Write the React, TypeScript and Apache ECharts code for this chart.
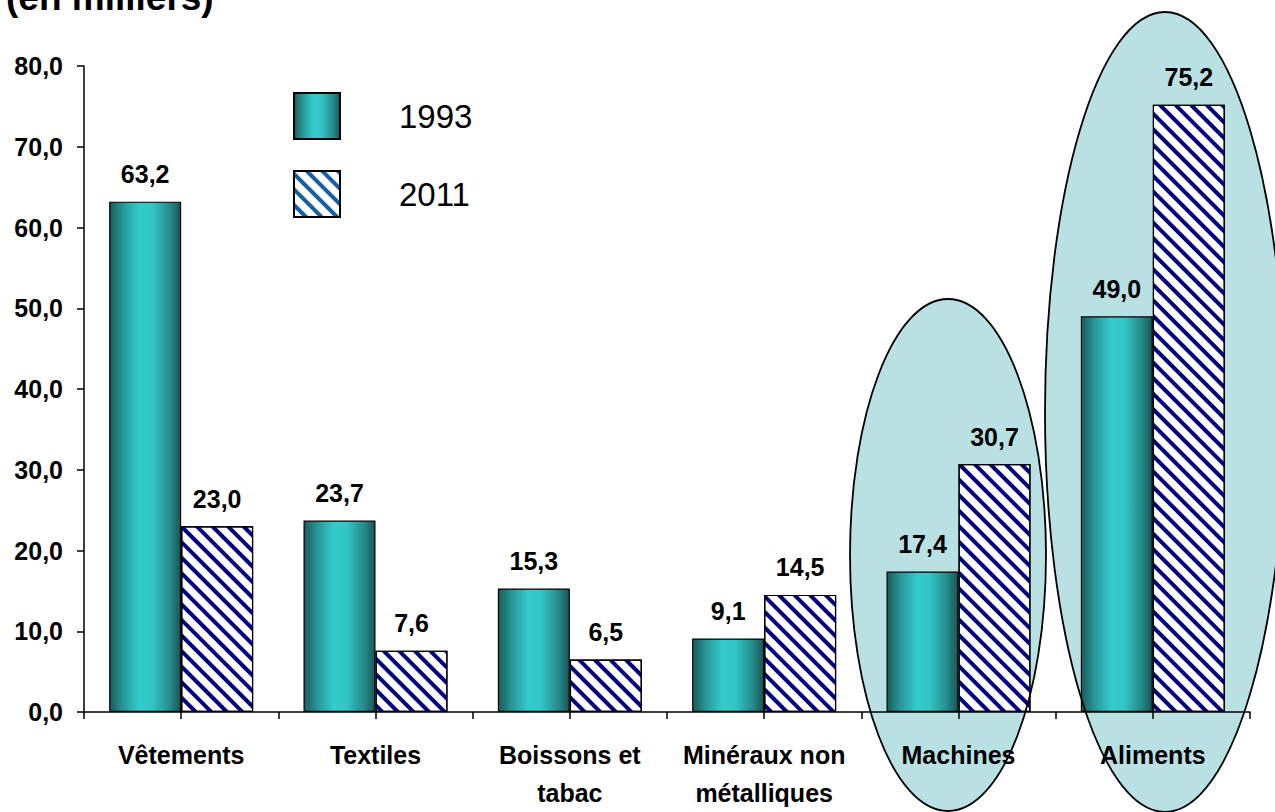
import React, { useEffect, useRef } from 'react';
import * as echarts from 'echarts';

const titleText = '(en milliers)';
const categories = ['Vêtements', 'Textiles', 'Boissons et\ntabac', 'Minéraux non\nmétalliques', 'Machines', 'Aliments'];
const seriesNames = ['1993', '2011'];
const values1993 = [63.2, 23.7, 15.3, 9.1, 17.4, 49.0];
const values2011 = [23.0, 7.6, 6.5, 14.5, 30.7, 75.2];
const yMin = 0;
const yMax = 80;
const yInterval = 10;
const halfSlots = ['a', 'b', 'c', 'd', 'e', 'f', 'g', 'h', 'i', 'j', 'k', 'l'];

const fmt = (v: number) => v.toFixed(1).replace('.', ',');
const FONT = 'Arial, "Liberation Sans", sans-serif';

export default function App() {
  const ref = useRef<HTMLDivElement>(null);
  useEffect(() => {
    if (!ref.current) return;
    const chart = echarts.init(ref.current, undefined, { renderer: 'svg' });
    const tealGrad = new echarts.graphic.LinearGradient(0, 0, 1, 0, [
      { offset: 0, color: '#1a5c5c' },
      { offset: 0.18, color: '#279595' },
      { offset: 0.42, color: '#33cccc' },
      { offset: 0.6, color: '#32c6c6' },
      { offset: 0.85, color: '#268a8a' },
      { offset: 1, color: '#1b5454' },
    ]);
    const hatch = {
      symbol: 'rect',
      symbolSize: 1,
      color: '#000080',
      dashArrayX: [1, 0],
      dashArrayY: [4, 6.6],
      rotation: Math.PI / 4,
    };
    const labelStyle = {
      show: true,
      position: 'top',
      distance: 15,
      fontFamily: FONT,
      fontWeight: 'bold',
      fontSize: 25,
      color: '#000',
      formatter: (p: any) => fmt(p.value),
    };
    chart.setOption({
      animation: false,
      textStyle: { fontFamily: FONT },
      grid: { left: 84, right: 25, top: 66, bottom: 100, containLabel: false },
      legend: {
        orient: 'vertical',
        left: 288,
        top: 87,
        itemWidth: 46,
        itemHeight: 46,
        itemGap: 30,
        icon: 'rect',
        textStyle: { fontSize: 33, color: '#000', fontFamily: FONT, padding: [0, 0, 0, 54] },
        data: [
          { name: '1993' },
          { name: '2011', itemStyle: { decal: { ...hatch, color: '#1560a0' } } },
        ],
      },
      xAxis: [
        {
          type: 'category',
          data: categories,
          axisLine: { show: true, lineStyle: { color: '#000', width: 1.5 } },
          axisTick: { show: false },
          axisLabel: {
            fontFamily: FONT,
            fontWeight: 'bold',
            fontSize: 25,
            color: '#000',
            lineHeight: 38,
            margin: 24,
            interval: 0,
          },
          z: 5,
        },
        {
          type: 'category',
          data: halfSlots,
          position: 'bottom',
          axisLine: { show: false },
          axisTick: { show: true, length: 7, lineStyle: { color: '#000', width: 1.5 } },
          axisLabel: { show: false },
          z: 5,
        },
      ],
      yAxis: {
        type: 'value',
        min: yMin,
        max: yMax,
        interval: yInterval,
        axisLine: { show: true, lineStyle: { color: '#000', width: 1.5 } },
        axisTick: { show: true, length: 7, lineStyle: { color: '#000', width: 1.5 } },
        splitLine: { show: false },
        axisLabel: {
          fontFamily: FONT,
          fontWeight: 'bold',
          fontSize: 25,
          color: '#000',
          margin: 21,
          formatter: (v: number) => fmt(v),
        },
        z: 5,
      },
      series: [
        {
          name: seriesNames[0],
          type: 'bar',
          data: values1993,
          barWidth: 72,
          barGap: '0%',
          itemStyle: { color: tealGrad, borderColor: '#000', borderWidth: 1.2 },
          label: labelStyle,
          z: 3,
        },
        {
          name: seriesNames[1],
          type: 'bar',
          data: values2011,
          barWidth: 72,
          barGap: '0%',
          itemStyle: { color: '#ffffff', borderColor: '#000', borderWidth: 1.2, decal: hatch },
          label: labelStyle,
          z: 3,
        },
      ],
      graphic: [
        {
          type: 'ellipse',
          z: -10,
          shape: { cx: 948, cy: 555, rx: 98, ry: 256 },
          style: { fill: '#b9e0e3', stroke: 'none' },
          silent: true,
        },
        {
          type: 'ellipse',
          z: -10,
          shape: { cx: 1165, cy: 412, rx: 120, ry: 400 },
          style: { fill: '#b9e0e3', stroke: 'none' },
          silent: true,
        },
        {
          type: 'ellipse',
          z: 100,
          shape: { cx: 948, cy: 555, rx: 98, ry: 256 },
          style: { fill: 'none', stroke: '#000', lineWidth: 1.8 },
          silent: true,
        },
        {
          type: 'ellipse',
          z: 100,
          shape: { cx: 1165, cy: 412, rx: 120, ry: 400 },
          style: { fill: 'none', stroke: '#000', lineWidth: 1.8 },
          silent: true,
        },
        {
          type: 'text',
          z: 100,
          x: 6,
          y: -21,
          style: {
            text: titleText,
            fontFamily: FONT,
            fontWeight: 'bold',
            fontSize: 37,
            fill: '#000',
            verticalAlign: 'top',
          },
        },
      ],
    });
    return () => chart.dispose();
  }, []);
  return (
    <div
      ref={ref}
      style={{ position: 'fixed', left: 0, top: 0, width: 1275, height: 812, background: '#fff' }}
    />
  );
}
